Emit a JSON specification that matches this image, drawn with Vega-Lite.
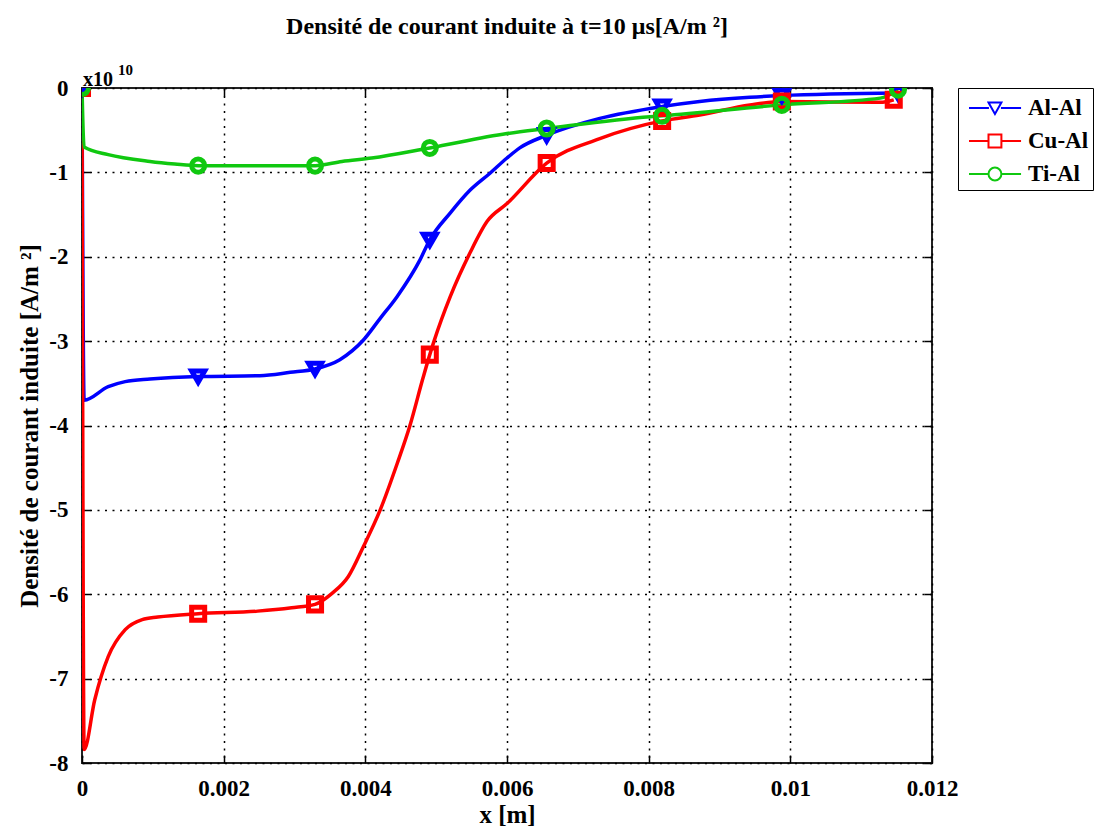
{
  "$schema": "https://vega.github.io/schema/vega-lite/v6.json",
  "width": 850,
  "height": 675,
  "autosize": "none",
  "padding": {"left": 82, "top": 88, "right": 164, "bottom": 68},
  "background": "white",
  "title": {
    "text": "Densité de courant induite à t=10 μs[A/m ²]",
    "font": "Liberation Serif",
    "fontSize": 24,
    "fontWeight": "bold",
    "color": "black",
    "anchor": "middle",
    "frame": "group",
    "offset": 24
  },
  "config": {
    "view": {"stroke": "#222", "strokeWidth": 2},
    "axis": {
      "domain": false,
      "tickSize": -8,
      "tickColor": "black",
      "tickWidth": 1.5,
      "labelFont": "Liberation Serif",
      "labelFontSize": 23,
      "labelFontWeight": "bold",
      "labelColor": "black",
      "labelFlush": false,
      "labelOverlap": false,
      "titleFont": "Liberation Serif",
      "titleFontSize": 25,
      "titleFontWeight": "bold",
      "titleColor": "black",
      "gridColor": "black",
      "gridDash": [2, 5.5],
      "gridWidth": 1.5,
      "gridOpacity": 1
    }
  },
  "datasets": {
    "curves": [
      {"series": "Al-Al", "x": 0, "y": 0},
      {"series": "Al-Al", "x": 0.00003, "y": -3.70},
      {"series": "Al-Al", "x": 0.00037, "y": -3.54},
      {"series": "Al-Al", "x": 0.00061, "y": -3.48},
      {"series": "Al-Al", "x": 0.00096, "y": -3.45},
      {"series": "Al-Al", "x": 0.00164, "y": -3.42},
      {"series": "Al-Al", "x": 0.00251, "y": -3.41},
      {"series": "Al-Al", "x": 0.00294, "y": -3.37},
      {"series": "Al-Al", "x": 0.00329, "y": -3.33},
      {"series": "Al-Al", "x": 0.00364, "y": -3.22},
      {"series": "Al-Al", "x": 0.00397, "y": -2.99},
      {"series": "Al-Al", "x": 0.00421, "y": -2.73},
      {"series": "Al-Al", "x": 0.00445, "y": -2.47},
      {"series": "Al-Al", "x": 0.00477, "y": -2.04},
      {"series": "Al-Al", "x": 0.00491, "y": -1.80},
      {"series": "Al-Al", "x": 0.0052, "y": -1.48},
      {"series": "Al-Al", "x": 0.00548, "y": -1.21},
      {"series": "Al-Al", "x": 0.00576, "y": -1.01},
      {"series": "Al-Al", "x": 0.006, "y": -0.83},
      {"series": "Al-Al", "x": 0.00618, "y": -0.71},
      {"series": "Al-Al", "x": 0.00656, "y": -0.56},
      {"series": "Al-Al", "x": 0.00731, "y": -0.36},
      {"series": "Al-Al", "x": 0.00819, "y": -0.22},
      {"series": "Al-Al", "x": 0.00872, "y": -0.16},
      {"series": "Al-Al", "x": 0.00943, "y": -0.11},
      {"series": "Al-Al", "x": 0.00988, "y": -0.09},
      {"series": "Al-Al", "x": 0.01152, "y": -0.06},
      {"series": "Cu-Al", "x": 0, "y": 0},
      {"series": "Cu-Al", "x": 0.00003, "y": -7.84},
      {"series": "Cu-Al", "x": 0.00018, "y": -7.25},
      {"series": "Cu-Al", "x": 0.00037, "y": -6.74},
      {"series": "Cu-Al", "x": 0.00061, "y": -6.42},
      {"series": "Cu-Al", "x": 0.00085, "y": -6.30},
      {"series": "Cu-Al", "x": 0.00107, "y": -6.27},
      {"series": "Cu-Al", "x": 0.00164, "y": -6.23},
      {"series": "Cu-Al", "x": 0.00248, "y": -6.20},
      {"series": "Cu-Al", "x": 0.00296, "y": -6.16},
      {"series": "Cu-Al", "x": 0.00329, "y": -6.12},
      {"series": "Cu-Al", "x": 0.00353, "y": -5.99},
      {"series": "Cu-Al", "x": 0.00376, "y": -5.79},
      {"series": "Cu-Al", "x": 0.00397, "y": -5.44},
      {"series": "Cu-Al", "x": 0.00421, "y": -5.00},
      {"series": "Cu-Al", "x": 0.00445, "y": -4.45},
      {"series": "Cu-Al", "x": 0.00463, "y": -4.00},
      {"series": "Cu-Al", "x": 0.00481, "y": -3.45},
      {"series": "Cu-Al", "x": 0.00491, "y": -3.16},
      {"series": "Cu-Al", "x": 0.00497, "y": -3.00},
      {"series": "Cu-Al", "x": 0.0052, "y": -2.47},
      {"series": "Cu-Al", "x": 0.00548, "y": -1.95},
      {"series": "Cu-Al", "x": 0.00572, "y": -1.58},
      {"series": "Cu-Al", "x": 0.006, "y": -1.37},
      {"series": "Cu-Al", "x": 0.00656, "y": -0.89},
      {"series": "Cu-Al", "x": 0.00731, "y": -0.60},
      {"series": "Cu-Al", "x": 0.00819, "y": -0.39},
      {"series": "Cu-Al", "x": 0.00872, "y": -0.32},
      {"series": "Cu-Al", "x": 0.00943, "y": -0.20},
      {"series": "Cu-Al", "x": 0.00988, "y": -0.16},
      {"series": "Cu-Al", "x": 0.01127, "y": -0.17},
      {"series": "Cu-Al", "x": 0.01146, "y": -0.14},
      {"series": "Ti-Al", "x": 0, "y": 0},
      {"series": "Ti-Al", "x": 0.00003, "y": -0.70},
      {"series": "Ti-Al", "x": 0.00037, "y": -0.79},
      {"series": "Ti-Al", "x": 0.00096, "y": -0.87},
      {"series": "Ti-Al", "x": 0.00131, "y": -0.90},
      {"series": "Ti-Al", "x": 0.00164, "y": -0.92},
      {"series": "Ti-Al", "x": 0.00329, "y": -0.92},
      {"series": "Ti-Al", "x": 0.00367, "y": -0.87},
      {"series": "Ti-Al", "x": 0.00409, "y": -0.83},
      {"series": "Ti-Al", "x": 0.00491, "y": -0.71},
      {"series": "Ti-Al", "x": 0.006, "y": -0.54},
      {"series": "Ti-Al", "x": 0.00656, "y": -0.48},
      {"series": "Ti-Al", "x": 0.00802, "y": -0.34},
      {"series": "Ti-Al", "x": 0.00819, "y": -0.33},
      {"series": "Ti-Al", "x": 0.00988, "y": -0.20},
      {"series": "Ti-Al", "x": 0.01127, "y": -0.12},
      {"series": "Ti-Al", "x": 0.01152, "y": -0.02}
    ],
    "markers": [
      {"series": "Al-Al", "x": 0, "y": 0},
      {"series": "Al-Al", "x": 0.00164, "y": -3.42},
      {"series": "Al-Al", "x": 0.00329, "y": -3.33},
      {"series": "Al-Al", "x": 0.00491, "y": -1.80},
      {"series": "Al-Al", "x": 0.00656, "y": -0.56},
      {"series": "Al-Al", "x": 0.00819, "y": -0.22},
      {"series": "Al-Al", "x": 0.00988, "y": -0.09},
      {"series": "Al-Al", "x": 0.01152, "y": -0.06},
      {"series": "Cu-Al", "x": 0, "y": 0},
      {"series": "Cu-Al", "x": 0.00164, "y": -6.23},
      {"series": "Cu-Al", "x": 0.00329, "y": -6.12},
      {"series": "Cu-Al", "x": 0.00491, "y": -3.16},
      {"series": "Cu-Al", "x": 0.00656, "y": -0.89},
      {"series": "Cu-Al", "x": 0.00819, "y": -0.39},
      {"series": "Cu-Al", "x": 0.00988, "y": -0.16},
      {"series": "Cu-Al", "x": 0.01146, "y": -0.14},
      {"series": "Ti-Al", "x": 0, "y": 0},
      {"series": "Ti-Al", "x": 0.00164, "y": -0.92},
      {"series": "Ti-Al", "x": 0.00329, "y": -0.92},
      {"series": "Ti-Al", "x": 0.00491, "y": -0.71},
      {"series": "Ti-Al", "x": 0.00656, "y": -0.48},
      {"series": "Ti-Al", "x": 0.00819, "y": -0.33},
      {"series": "Ti-Al", "x": 0.00988, "y": -0.20},
      {"series": "Ti-Al", "x": 0.01152, "y": -0.02}
    ],
    "labels": [
      {"base": "x10", "exp": "10"}
    ]
  },
  "layer": [
    {
      "data": {"name": "curves"},
      "mark": {"type": "line", "interpolate": "monotone", "strokeWidth": 3.5, "clip": true},
      "encoding": {
        "x": {
          "field": "x", "type": "quantitative",
          "scale": {"domain": [0, 0.012], "nice": false, "zero": false},
          "axis": {
            "orient": "bottom",
            "values": [0, 0.002, 0.004, 0.006, 0.008, 0.01, 0.012],
            "format": "~g",
            "title": "x [m]",
            "labelPadding": 22,
            "titlePadding": 2,
            "grid": true
          }
        },
        "y": {
          "field": "y", "type": "quantitative",
          "scale": {"domain": [-8, 0], "nice": false, "zero": false},
          "axis": {
            "orient": "left",
            "values": [-8, -7, -6, -5, -4, -3, -2, -1, 0],
            "labelExpr": "'' + datum.value",
            "title": "Densité de courant induite [A/m ²]",
            "labelPadding": 22,
            "titlePadding": 6,
            "grid": true
          }
        },
        "color": {
          "field": "series", "type": "nominal",
          "scale": {"domain": ["Al-Al", "Cu-Al", "Ti-Al"], "range": ["#0000ff", "#ff0000", "#10c810"]},
          "legend": null
        }
      }
    },
    {
      "data": {"name": "markers"},
      "mark": {"type": "point", "filled": false, "strokeWidth": 5, "size": 170, "clip": true, "opacity": 1},
      "encoding": {
        "x": {
          "field": "x", "type": "quantitative",
          "axis": {
            "orient": "top",
            "values": [0, 0.002, 0.004, 0.006, 0.008, 0.01, 0.012],
            "labels": false, "title": null, "grid": false
          }
        },
        "y": {
          "field": "y", "type": "quantitative",
          "axis": {
            "orient": "right",
            "values": [-8, -7, -6, -5, -4, -3, -2, -1, 0],
            "labels": false, "title": null, "grid": false
          }
        },
        "color": {
          "field": "series", "type": "nominal",
          "scale": {"domain": ["Al-Al", "Cu-Al", "Ti-Al"], "range": ["#0000ff", "#ff0000", "#10c810"]},
          "legend": null
        },
        "shape": {
          "field": "series", "type": "nominal",
          "scale": {"domain": ["Al-Al", "Cu-Al", "Ti-Al"], "range": ["triangle-down", "square", "circle"]},
          "legend": null
        }
      }
    },
    {
      "data": {"name": "markers"},
      "transform": [{"filter": "false"}],
      "mark": {"type": "point", "filled": false, "strokeWidth": 2, "clip": true},
      "encoding": {
        "color": {
          "field": "series", "type": "nominal",
          "scale": {"domain": ["Al-Al", "Cu-Al", "Ti-Al"], "range": ["#0000ff", "#ff0000", "#10c810"]},
          "legend": {
            "title": null,
            "orient": "right",
            "offset": 25,
            "padding": 4,
            "strokeColor": "black",
            "fillColor": "white",
            "symbolSize": 900,
            "symbolStrokeWidth": 2,
            "symbolOpacity": 1,
            "labelFont": "Liberation Serif",
            "labelFontSize": 23,
            "labelFontWeight": "bold",
            "labelColor": "black",
            "labelOffset": 34,
            "rowPadding": 5,
            "encode": {"legend": {"strokeWidth": {"value": 2}}}
          }
        },
        "shape": {
          "field": "series", "type": "nominal",
          "scale": {"domain": ["Al-Al", "Cu-Al", "Ti-Al"], "range": [
            "M-0.6,0H0.73M1.53,0H2.87M0.7,-0.36H1.56L1.13,0.4Z",
            "M-0.6,0H0.7M1.56,0H2.87M0.7,-0.43H1.56V0.43H0.7Z",
            "M-0.6,0H0.7M1.56,0H2.87M0.7,0A0.43,0.43,0,1,0,1.56,0A0.43,0.43,0,1,0,0.7,0Z"
          ]},
          "legend": {
            "title": null,
            "orient": "right",
            "offset": 25,
            "padding": 4,
            "strokeColor": "black",
            "fillColor": "white",
            "symbolSize": 900,
            "symbolStrokeWidth": 2,
            "symbolOpacity": 1,
            "labelFont": "Liberation Serif",
            "labelFontSize": 23,
            "labelFontWeight": "bold",
            "labelColor": "black",
            "labelOffset": 34,
            "rowPadding": 5,
            "encode": {"legend": {"strokeWidth": {"value": 2}}}
          }
        }
      }
    },
    {
      "data": {"name": "labels"},
      "mark": {"type": "text", "font": "Liberation Serif", "fontSize": 20, "fontWeight": "bold", "color": "black", "align": "left", "baseline": "alphabetic", "dx": 1, "dy": -2},
      "encoding": {
        "x": {"datum": 0, "type": "quantitative", "axis": null},
        "y": {"datum": 0, "type": "quantitative", "axis": null},
        "text": {"field": "base"}
      }
    },
    {
      "data": {"name": "labels"},
      "mark": {"type": "text", "font": "Liberation Serif", "fontSize": 15, "fontWeight": "bold", "color": "black", "align": "left", "baseline": "alphabetic", "dx": 36, "dy": -13},
      "encoding": {
        "x": {"datum": 0, "type": "quantitative", "axis": null},
        "y": {"datum": 0, "type": "quantitative", "axis": null},
        "text": {"field": "exp"}
      }
    }
  ],
  "resolve": {
    "axis": {"x": "independent", "y": "independent"},
    "scale": {"shape": "independent"},
    "legend": {"color": "independent", "shape": "independent"}
  }
}
